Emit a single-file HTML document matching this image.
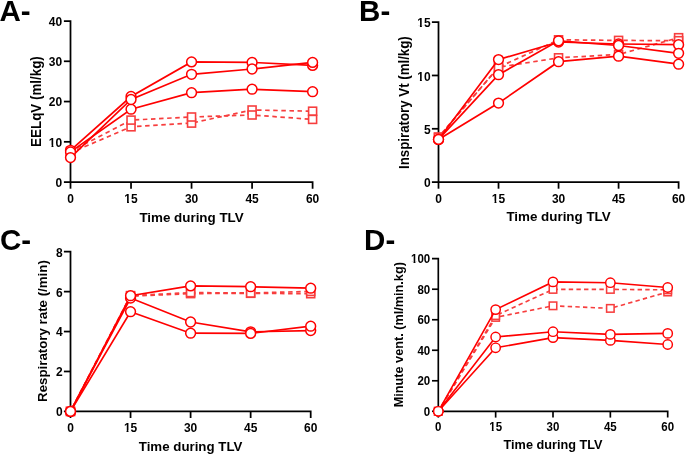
<!DOCTYPE html>
<html><head><meta charset="utf-8"><style>
html,body{margin:0;padding:0;background:#fff;}
svg{display:block;will-change:transform;}
text{font-family:'Liberation Sans', sans-serif;font-weight:bold;fill:#000;}
</style></head><body>
<svg width="685" height="454" viewBox="0 0 685 454">
<rect width="685" height="454" fill="#fff"/>
<path d="M63.90,21.00H70.50V182.10H312.60V188.70" fill="none" stroke="#000" stroke-width="1.75" stroke-linejoin="miter"/>
<path d="M63.90,182.10H70.50" stroke="#000" stroke-width="1.75"/>
<path d="M63.90,141.82H70.50" stroke="#000" stroke-width="1.75"/>
<path d="M63.90,101.55H70.50" stroke="#000" stroke-width="1.75"/>
<path d="M63.90,61.28H70.50" stroke="#000" stroke-width="1.75"/>
<path d="M70.50,182.10V188.70" stroke="#000" stroke-width="1.75"/>
<path d="M131.03,182.10V188.70" stroke="#000" stroke-width="1.75"/>
<path d="M191.55,182.10V188.70" stroke="#000" stroke-width="1.75"/>
<path d="M252.08,182.10V188.70" stroke="#000" stroke-width="1.75"/>
<text transform="translate(62.20,187.00) scale(1,1.05)" text-anchor="end" font-size="12">0</text>
<text transform="translate(62.20,146.72) scale(1,1.05)" text-anchor="end" font-size="12">10</text>
<rect x="48.21" y="144.84" width="3.30" height="2.59" fill="#fff"/>
<rect x="53.45" y="144.84" width="2.40" height="2.59" fill="#fff"/>
<text transform="translate(62.20,106.45) scale(1,1.05)" text-anchor="end" font-size="12">20</text>
<text transform="translate(62.20,66.18) scale(1,1.05)" text-anchor="end" font-size="12">30</text>
<text transform="translate(62.20,25.90) scale(1,1.05)" text-anchor="end" font-size="12">40</text>
<text transform="translate(70.50,202.60) scale(1,1.05)" text-anchor="middle" font-size="12">0</text>
<text transform="translate(131.03,202.60) scale(1,1.05)" text-anchor="middle" font-size="12">15</text>
<rect x="123.70" y="200.71" width="3.30" height="2.59" fill="#fff"/>
<rect x="128.95" y="200.71" width="2.40" height="2.59" fill="#fff"/>
<text transform="translate(191.55,202.60) scale(1,1.05)" text-anchor="middle" font-size="12">30</text>
<text transform="translate(252.08,202.60) scale(1,1.05)" text-anchor="middle" font-size="12">45</text>
<text transform="translate(312.60,202.60) scale(1,1.05)" text-anchor="middle" font-size="12">60</text>
<text transform="translate(191.55,221.90) scale(1,1.02)" text-anchor="middle" font-size="13.4">Time during TLV</text>
<text transform="translate(41.20,101.55) rotate(-90) scale(1,1.025)" x="0" y="0" text-anchor="middle" font-size="13.4">EELqV (ml/kg)</text>
<text transform="translate(-0.60,20.50) scale(1,1.0)" font-size="29.5">A-</text>
<polyline points="70.50,152.80 131.03,126.80 191.55,123.10 252.08,110.00 312.60,111.20" fill="none" stroke="rgb(247,62,62)" stroke-width="1.7" stroke-dasharray="4.5 3.6" stroke-dashoffset="1.00"/>
<polyline points="70.50,151.40 131.03,120.10 191.55,117.00 252.08,115.00 312.60,119.40" fill="none" stroke="rgb(247,62,62)" stroke-width="1.7" stroke-dasharray="4.5 3.6" stroke-dashoffset="1.00"/>
<rect x="66.50" y="148.80" width="8.00" height="8.00" fill="#fff" stroke="rgb(247,62,62)" stroke-width="1.6"/>
<rect x="127.03" y="122.80" width="8.00" height="8.00" fill="#fff" stroke="rgb(247,62,62)" stroke-width="1.6"/>
<rect x="187.55" y="119.10" width="8.00" height="8.00" fill="#fff" stroke="rgb(247,62,62)" stroke-width="1.6"/>
<rect x="248.08" y="106.00" width="8.00" height="8.00" fill="#fff" stroke="rgb(247,62,62)" stroke-width="1.6"/>
<rect x="308.60" y="107.20" width="8.00" height="8.00" fill="#fff" stroke="rgb(247,62,62)" stroke-width="1.6"/>
<rect x="66.50" y="147.40" width="8.00" height="8.00" fill="#fff" stroke="rgb(247,62,62)" stroke-width="1.6"/>
<rect x="127.03" y="116.10" width="8.00" height="8.00" fill="#fff" stroke="rgb(247,62,62)" stroke-width="1.6"/>
<rect x="187.55" y="113.00" width="8.00" height="8.00" fill="#fff" stroke="rgb(247,62,62)" stroke-width="1.6"/>
<rect x="248.08" y="111.00" width="8.00" height="8.00" fill="#fff" stroke="rgb(247,62,62)" stroke-width="1.6"/>
<rect x="308.60" y="115.40" width="8.00" height="8.00" fill="#fff" stroke="rgb(247,62,62)" stroke-width="1.6"/>
<polyline points="70.50,150.30 131.03,96.50 191.55,61.90 252.08,62.40 312.60,65.40" fill="none" stroke="#ff0000" stroke-width="1.7"/>
<polyline points="70.50,151.90 131.03,109.20 191.55,92.70 252.08,89.20 312.60,91.70" fill="none" stroke="#ff0000" stroke-width="1.7"/>
<polyline points="70.50,157.60 131.03,99.50 191.55,74.30 252.08,69.00 312.60,62.40" fill="none" stroke="#ff0000" stroke-width="1.7"/>
<circle cx="70.50" cy="150.30" r="4.9" fill="#fff" stroke="#ff0000" stroke-width="1.5"/>
<circle cx="131.03" cy="96.50" r="4.9" fill="#fff" stroke="#ff0000" stroke-width="1.5"/>
<circle cx="191.55" cy="61.90" r="4.9" fill="#fff" stroke="#ff0000" stroke-width="1.5"/>
<circle cx="252.08" cy="62.40" r="4.9" fill="#fff" stroke="#ff0000" stroke-width="1.5"/>
<circle cx="312.60" cy="65.40" r="4.9" fill="#fff" stroke="#ff0000" stroke-width="1.5"/>
<circle cx="70.50" cy="151.90" r="4.9" fill="#fff" stroke="#ff0000" stroke-width="1.5"/>
<circle cx="131.03" cy="109.20" r="4.9" fill="#fff" stroke="#ff0000" stroke-width="1.5"/>
<circle cx="191.55" cy="92.70" r="4.9" fill="#fff" stroke="#ff0000" stroke-width="1.5"/>
<circle cx="252.08" cy="89.20" r="4.9" fill="#fff" stroke="#ff0000" stroke-width="1.5"/>
<circle cx="312.60" cy="91.70" r="4.9" fill="#fff" stroke="#ff0000" stroke-width="1.5"/>
<circle cx="70.50" cy="157.60" r="4.9" fill="#fff" stroke="#ff0000" stroke-width="1.5"/>
<circle cx="131.03" cy="99.50" r="4.9" fill="#fff" stroke="#ff0000" stroke-width="1.5"/>
<circle cx="191.55" cy="74.30" r="4.9" fill="#fff" stroke="#ff0000" stroke-width="1.5"/>
<circle cx="252.08" cy="69.00" r="4.9" fill="#fff" stroke="#ff0000" stroke-width="1.5"/>
<circle cx="312.60" cy="62.40" r="4.9" fill="#fff" stroke="#ff0000" stroke-width="1.5"/>
<path d="M431.90,22.15H438.50V182.10H678.60V188.70" fill="none" stroke="#000" stroke-width="1.75" stroke-linejoin="miter"/>
<path d="M431.90,182.10H438.50" stroke="#000" stroke-width="1.75"/>
<path d="M431.90,128.78H438.50" stroke="#000" stroke-width="1.75"/>
<path d="M431.90,75.47H438.50" stroke="#000" stroke-width="1.75"/>
<path d="M438.50,182.10V188.70" stroke="#000" stroke-width="1.75"/>
<path d="M498.52,182.10V188.70" stroke="#000" stroke-width="1.75"/>
<path d="M558.55,182.10V188.70" stroke="#000" stroke-width="1.75"/>
<path d="M618.58,182.10V188.70" stroke="#000" stroke-width="1.75"/>
<text transform="translate(430.60,187.20) scale(1,1.05)" text-anchor="end" font-size="12">0</text>
<text transform="translate(430.60,133.88) scale(1,1.05)" text-anchor="end" font-size="12">5</text>
<text transform="translate(430.60,80.57) scale(1,1.05)" text-anchor="end" font-size="12">10</text>
<rect x="416.61" y="78.68" width="3.30" height="2.59" fill="#fff"/>
<rect x="421.85" y="78.68" width="2.40" height="2.59" fill="#fff"/>
<text transform="translate(430.60,27.25) scale(1,1.05)" text-anchor="end" font-size="12">15</text>
<rect x="416.61" y="25.36" width="3.30" height="2.59" fill="#fff"/>
<rect x="421.85" y="25.36" width="2.40" height="2.59" fill="#fff"/>
<text transform="translate(438.50,202.60) scale(1,1.05)" text-anchor="middle" font-size="12">0</text>
<text transform="translate(498.52,202.60) scale(1,1.05)" text-anchor="middle" font-size="12">15</text>
<rect x="491.20" y="200.71" width="3.30" height="2.59" fill="#fff"/>
<rect x="496.45" y="200.71" width="2.40" height="2.59" fill="#fff"/>
<text transform="translate(558.55,202.60) scale(1,1.05)" text-anchor="middle" font-size="12">30</text>
<text transform="translate(618.58,202.60) scale(1,1.05)" text-anchor="middle" font-size="12">45</text>
<text transform="translate(678.60,202.60) scale(1,1.05)" text-anchor="middle" font-size="12">60</text>
<text transform="translate(558.55,221.00) scale(1,1.02)" text-anchor="middle" font-size="13.4">Time during TLV</text>
<text transform="translate(408.80,102.62) rotate(-90) scale(1,1.05)" x="0" y="0" text-anchor="middle" font-size="13.28">Inspiratory Vt (ml/kg)</text>
<text transform="translate(359.10,20.50) scale(1,1.0)" font-size="29.5">B-</text>
<polyline points="438.50,137.20 498.52,67.20 558.55,57.80 618.58,54.50 678.60,37.70" fill="none" stroke="rgb(247,62,62)" stroke-width="1.7" stroke-dasharray="4.5 3.6" stroke-dashoffset="2.24"/>
<polyline points="438.50,137.20 498.52,67.20 558.55,39.80 618.58,40.40 678.60,40.70" fill="none" stroke="rgb(247,62,62)" stroke-width="1.7" stroke-dasharray="4.5 3.6" stroke-dashoffset="3.86"/>
<rect x="434.50" y="133.20" width="8.00" height="8.00" fill="#fff" stroke="rgb(247,62,62)" stroke-width="1.6"/>
<rect x="494.52" y="63.20" width="8.00" height="8.00" fill="#fff" stroke="rgb(247,62,62)" stroke-width="1.6"/>
<rect x="554.55" y="53.80" width="8.00" height="8.00" fill="#fff" stroke="rgb(247,62,62)" stroke-width="1.6"/>
<rect x="614.58" y="50.50" width="8.00" height="8.00" fill="#fff" stroke="rgb(247,62,62)" stroke-width="1.6"/>
<rect x="674.60" y="33.70" width="8.00" height="8.00" fill="#fff" stroke="rgb(247,62,62)" stroke-width="1.6"/>
<rect x="434.50" y="133.20" width="8.00" height="8.00" fill="#fff" stroke="rgb(247,62,62)" stroke-width="1.6"/>
<rect x="494.52" y="63.20" width="8.00" height="8.00" fill="#fff" stroke="rgb(247,62,62)" stroke-width="1.6"/>
<rect x="554.55" y="35.80" width="8.00" height="8.00" fill="#fff" stroke="rgb(247,62,62)" stroke-width="1.6"/>
<rect x="614.58" y="36.40" width="8.00" height="8.00" fill="#fff" stroke="rgb(247,62,62)" stroke-width="1.6"/>
<rect x="674.60" y="36.70" width="8.00" height="8.00" fill="#fff" stroke="rgb(247,62,62)" stroke-width="1.6"/>
<polyline points="438.50,139.40 498.52,59.60 558.55,42.00 618.58,44.00 678.60,44.70" fill="none" stroke="#ff0000" stroke-width="1.7"/>
<polyline points="438.50,139.40 498.52,74.70 558.55,40.80 618.58,45.50 678.60,53.30" fill="none" stroke="#ff0000" stroke-width="1.7"/>
<polyline points="438.50,139.40 498.52,103.10 558.55,61.70 618.58,56.20 678.60,64.20" fill="none" stroke="#ff0000" stroke-width="1.7"/>
<circle cx="438.50" cy="139.40" r="4.9" fill="#fff" stroke="#ff0000" stroke-width="1.5"/>
<circle cx="498.52" cy="59.60" r="4.9" fill="#fff" stroke="#ff0000" stroke-width="1.5"/>
<circle cx="558.55" cy="42.00" r="4.9" fill="#fff" stroke="#ff0000" stroke-width="1.5"/>
<circle cx="618.58" cy="44.00" r="4.9" fill="#fff" stroke="#ff0000" stroke-width="1.5"/>
<circle cx="678.60" cy="44.70" r="4.9" fill="#fff" stroke="#ff0000" stroke-width="1.5"/>
<circle cx="438.50" cy="139.40" r="4.9" fill="#fff" stroke="#ff0000" stroke-width="1.5"/>
<circle cx="498.52" cy="74.70" r="4.9" fill="#fff" stroke="#ff0000" stroke-width="1.5"/>
<circle cx="558.55" cy="40.80" r="4.9" fill="#fff" stroke="#ff0000" stroke-width="1.5"/>
<circle cx="618.58" cy="45.50" r="4.9" fill="#fff" stroke="#ff0000" stroke-width="1.5"/>
<circle cx="678.60" cy="53.30" r="4.9" fill="#fff" stroke="#ff0000" stroke-width="1.5"/>
<circle cx="438.50" cy="139.40" r="4.9" fill="#fff" stroke="#ff0000" stroke-width="1.5"/>
<circle cx="498.52" cy="103.10" r="4.9" fill="#fff" stroke="#ff0000" stroke-width="1.5"/>
<circle cx="558.55" cy="61.70" r="4.9" fill="#fff" stroke="#ff0000" stroke-width="1.5"/>
<circle cx="618.58" cy="56.20" r="4.9" fill="#fff" stroke="#ff0000" stroke-width="1.5"/>
<circle cx="678.60" cy="64.20" r="4.9" fill="#fff" stroke="#ff0000" stroke-width="1.5"/>
<path d="M63.90,251.70H70.50V411.40H310.70V418.00" fill="none" stroke="#000" stroke-width="1.75" stroke-linejoin="miter"/>
<path d="M63.90,411.40H70.50" stroke="#000" stroke-width="1.75"/>
<path d="M63.90,371.47H70.50" stroke="#000" stroke-width="1.75"/>
<path d="M63.90,331.55H70.50" stroke="#000" stroke-width="1.75"/>
<path d="M63.90,291.62H70.50" stroke="#000" stroke-width="1.75"/>
<path d="M70.50,411.40V418.00" stroke="#000" stroke-width="1.75"/>
<path d="M130.55,411.40V418.00" stroke="#000" stroke-width="1.75"/>
<path d="M190.60,411.40V418.00" stroke="#000" stroke-width="1.75"/>
<path d="M250.65,411.40V418.00" stroke="#000" stroke-width="1.75"/>
<text transform="translate(62.60,416.30) scale(1,1.05)" text-anchor="end" font-size="12">0</text>
<text transform="translate(62.60,376.37) scale(1,1.05)" text-anchor="end" font-size="12">2</text>
<text transform="translate(62.60,336.45) scale(1,1.05)" text-anchor="end" font-size="12">4</text>
<text transform="translate(62.60,296.52) scale(1,1.05)" text-anchor="end" font-size="12">6</text>
<text transform="translate(62.60,256.60) scale(1,1.05)" text-anchor="end" font-size="12">8</text>
<text transform="translate(70.50,431.90) scale(1,1.05)" text-anchor="middle" font-size="12">0</text>
<text transform="translate(130.55,431.90) scale(1,1.05)" text-anchor="middle" font-size="12">15</text>
<rect x="123.23" y="430.01" width="3.30" height="2.59" fill="#fff"/>
<rect x="128.48" y="430.01" width="2.40" height="2.59" fill="#fff"/>
<text transform="translate(190.60,431.90) scale(1,1.05)" text-anchor="middle" font-size="12">30</text>
<text transform="translate(250.65,431.90) scale(1,1.05)" text-anchor="middle" font-size="12">45</text>
<text transform="translate(310.70,431.90) scale(1,1.05)" text-anchor="middle" font-size="12">60</text>
<text transform="translate(190.60,451.30) scale(1,1.02)" text-anchor="middle" font-size="13.3">Time during TLV</text>
<text transform="translate(47.30,331.05) rotate(-90) scale(1,1.025)" x="0" y="0" text-anchor="middle" font-size="13.3">Respiratory rate (/min)</text>
<text transform="translate(0.05,250.20) scale(1,1.0)" font-size="29.5">C-</text>
<polyline points="70.50,411.40 130.55,296.20 190.60,293.60 250.65,293.30 310.70,293.70" fill="none" stroke="rgb(247,62,62)" stroke-width="1.7" stroke-dasharray="4.5 3.6" stroke-dashoffset="4.08"/>
<polyline points="70.50,411.40 130.55,295.60 190.60,292.60 250.65,293.00 310.70,291.40" fill="none" stroke="rgb(247,62,62)" stroke-width="1.7" stroke-dasharray="4.5 3.6" stroke-dashoffset="3.53"/>
<rect x="66.50" y="407.40" width="8.00" height="8.00" fill="#fff" stroke="rgb(247,62,62)" stroke-width="1.6"/>
<rect x="126.55" y="292.20" width="8.00" height="8.00" fill="#fff" stroke="rgb(247,62,62)" stroke-width="1.6"/>
<rect x="186.60" y="289.60" width="8.00" height="8.00" fill="#fff" stroke="rgb(247,62,62)" stroke-width="1.6"/>
<rect x="246.65" y="289.30" width="8.00" height="8.00" fill="#fff" stroke="rgb(247,62,62)" stroke-width="1.6"/>
<rect x="306.70" y="289.70" width="8.00" height="8.00" fill="#fff" stroke="rgb(247,62,62)" stroke-width="1.6"/>
<rect x="66.50" y="407.40" width="8.00" height="8.00" fill="#fff" stroke="rgb(247,62,62)" stroke-width="1.6"/>
<rect x="126.55" y="291.60" width="8.00" height="8.00" fill="#fff" stroke="rgb(247,62,62)" stroke-width="1.6"/>
<rect x="186.60" y="288.60" width="8.00" height="8.00" fill="#fff" stroke="rgb(247,62,62)" stroke-width="1.6"/>
<rect x="246.65" y="289.00" width="8.00" height="8.00" fill="#fff" stroke="rgb(247,62,62)" stroke-width="1.6"/>
<rect x="306.70" y="287.40" width="8.00" height="8.00" fill="#fff" stroke="rgb(247,62,62)" stroke-width="1.6"/>
<polyline points="70.50,411.40 130.55,298.00 190.60,322.00 250.65,331.80 310.70,330.60" fill="none" stroke="#ff0000" stroke-width="1.7"/>
<polyline points="70.50,411.40 130.55,311.70 190.60,333.20 250.65,333.40 310.70,326.20" fill="none" stroke="#ff0000" stroke-width="1.7"/>
<polyline points="70.50,411.40 130.55,295.70 190.60,285.90 250.65,286.70 310.70,288.20" fill="none" stroke="#ff0000" stroke-width="1.7"/>
<circle cx="70.50" cy="411.40" r="4.9" fill="#fff" stroke="#ff0000" stroke-width="1.5"/>
<circle cx="130.55" cy="298.00" r="4.9" fill="#fff" stroke="#ff0000" stroke-width="1.5"/>
<circle cx="190.60" cy="322.00" r="4.9" fill="#fff" stroke="#ff0000" stroke-width="1.5"/>
<circle cx="250.65" cy="331.80" r="4.9" fill="#fff" stroke="#ff0000" stroke-width="1.5"/>
<circle cx="310.70" cy="330.60" r="4.9" fill="#fff" stroke="#ff0000" stroke-width="1.5"/>
<circle cx="70.50" cy="411.40" r="4.9" fill="#fff" stroke="#ff0000" stroke-width="1.5"/>
<circle cx="130.55" cy="311.70" r="4.9" fill="#fff" stroke="#ff0000" stroke-width="1.5"/>
<circle cx="190.60" cy="333.20" r="4.9" fill="#fff" stroke="#ff0000" stroke-width="1.5"/>
<circle cx="250.65" cy="333.40" r="4.9" fill="#fff" stroke="#ff0000" stroke-width="1.5"/>
<circle cx="310.70" cy="326.20" r="4.9" fill="#fff" stroke="#ff0000" stroke-width="1.5"/>
<circle cx="70.50" cy="411.40" r="4.9" fill="#fff" stroke="#ff0000" stroke-width="1.5"/>
<circle cx="130.55" cy="295.70" r="4.9" fill="#fff" stroke="#ff0000" stroke-width="1.5"/>
<circle cx="190.60" cy="285.90" r="4.9" fill="#fff" stroke="#ff0000" stroke-width="1.5"/>
<circle cx="250.65" cy="286.70" r="4.9" fill="#fff" stroke="#ff0000" stroke-width="1.5"/>
<circle cx="310.70" cy="288.20" r="4.9" fill="#fff" stroke="#ff0000" stroke-width="1.5"/>
<path d="M432.00,258.70H438.30V411.30H667.70V417.60" fill="none" stroke="#000" stroke-width="1.67" stroke-linejoin="miter"/>
<path d="M432.00,411.30H438.30" stroke="#000" stroke-width="1.67"/>
<path d="M432.00,380.78H438.30" stroke="#000" stroke-width="1.67"/>
<path d="M432.00,350.26H438.30" stroke="#000" stroke-width="1.67"/>
<path d="M432.00,319.74H438.30" stroke="#000" stroke-width="1.67"/>
<path d="M432.00,289.22H438.30" stroke="#000" stroke-width="1.67"/>
<path d="M438.30,411.30V417.60" stroke="#000" stroke-width="1.67"/>
<path d="M495.65,411.30V417.60" stroke="#000" stroke-width="1.67"/>
<path d="M553.00,411.30V417.60" stroke="#000" stroke-width="1.67"/>
<path d="M610.35,411.30V417.60" stroke="#000" stroke-width="1.67"/>
<text transform="translate(430.20,415.90) scale(1,1.05)" text-anchor="end" font-size="11.5">0</text>
<text transform="translate(430.20,385.38) scale(1,1.05)" text-anchor="end" font-size="11.5">20</text>
<text transform="translate(430.20,354.86) scale(1,1.05)" text-anchor="end" font-size="11.5">40</text>
<text transform="translate(430.20,324.34) scale(1,1.05)" text-anchor="end" font-size="11.5">60</text>
<text transform="translate(430.20,293.82) scale(1,1.05)" text-anchor="end" font-size="11.5">80</text>
<text transform="translate(430.20,263.30) scale(1,1.05)" text-anchor="end" font-size="11.5">100</text>
<rect x="410.35" y="261.47" width="3.20" height="2.53" fill="#fff"/>
<rect x="415.43" y="261.47" width="2.31" height="2.53" fill="#fff"/>
<text transform="translate(438.30,430.80) scale(1,1.05)" text-anchor="middle" font-size="11.5">0</text>
<text transform="translate(495.65,430.80) scale(1,1.05)" text-anchor="middle" font-size="11.5">15</text>
<rect x="488.59" y="428.97" width="3.20" height="2.53" fill="#fff"/>
<rect x="493.67" y="428.97" width="2.31" height="2.53" fill="#fff"/>
<text transform="translate(553.00,430.80) scale(1,1.05)" text-anchor="middle" font-size="11.5">30</text>
<text transform="translate(610.35,430.80) scale(1,1.05)" text-anchor="middle" font-size="11.5">45</text>
<text transform="translate(667.70,430.80) scale(1,1.05)" text-anchor="middle" font-size="11.5">60</text>
<text transform="translate(553.00,448.90) scale(1,1.02)" text-anchor="middle" font-size="12.7">Time during TLV</text>
<text transform="translate(403.20,334.70) rotate(-90) scale(1,1.025)" x="0" y="0" text-anchor="middle" font-size="12.7">Minute vent. (ml/min.kg)</text>
<text transform="translate(364.10,250.40) scale(1,1.0)" font-size="29.5">D-</text>
<polyline points="438.30,411.30 495.65,317.40 553.00,305.80 610.35,308.40 667.70,292.00" fill="none" stroke="rgb(247,62,62)" stroke-width="1.62" stroke-dasharray="4.4 3.25" stroke-dashoffset="0.35"/>
<polyline points="438.30,411.30 495.65,315.60 553.00,289.40 610.35,289.40 667.70,289.80" fill="none" stroke="rgb(247,62,62)" stroke-width="1.62" stroke-dasharray="4.4 3.25" stroke-dashoffset="0.88"/>
<rect x="434.55" y="407.55" width="7.50" height="7.50" fill="#fff" stroke="rgb(247,62,62)" stroke-width="1.55"/>
<rect x="491.90" y="313.65" width="7.50" height="7.50" fill="#fff" stroke="rgb(247,62,62)" stroke-width="1.55"/>
<rect x="549.25" y="302.05" width="7.50" height="7.50" fill="#fff" stroke="rgb(247,62,62)" stroke-width="1.55"/>
<rect x="606.60" y="304.65" width="7.50" height="7.50" fill="#fff" stroke="rgb(247,62,62)" stroke-width="1.55"/>
<rect x="663.95" y="288.25" width="7.50" height="7.50" fill="#fff" stroke="rgb(247,62,62)" stroke-width="1.55"/>
<rect x="434.55" y="407.55" width="7.50" height="7.50" fill="#fff" stroke="rgb(247,62,62)" stroke-width="1.55"/>
<rect x="491.90" y="311.85" width="7.50" height="7.50" fill="#fff" stroke="rgb(247,62,62)" stroke-width="1.55"/>
<rect x="549.25" y="285.65" width="7.50" height="7.50" fill="#fff" stroke="rgb(247,62,62)" stroke-width="1.55"/>
<rect x="606.60" y="285.65" width="7.50" height="7.50" fill="#fff" stroke="rgb(247,62,62)" stroke-width="1.55"/>
<rect x="663.95" y="286.05" width="7.50" height="7.50" fill="#fff" stroke="rgb(247,62,62)" stroke-width="1.55"/>
<polyline points="438.30,411.30 495.65,347.80 553.00,337.60 610.35,340.40 667.70,344.50" fill="none" stroke="#ff0000" stroke-width="1.62"/>
<polyline points="438.30,411.30 495.65,337.00 553.00,331.70 610.35,334.40 667.70,333.40" fill="none" stroke="#ff0000" stroke-width="1.62"/>
<polyline points="438.30,411.30 495.65,309.60 553.00,281.90 610.35,282.70 667.70,287.50" fill="none" stroke="#ff0000" stroke-width="1.62"/>
<circle cx="438.30" cy="411.30" r="4.68" fill="#fff" stroke="#ff0000" stroke-width="1.45"/>
<circle cx="495.65" cy="347.80" r="4.68" fill="#fff" stroke="#ff0000" stroke-width="1.45"/>
<circle cx="553.00" cy="337.60" r="4.68" fill="#fff" stroke="#ff0000" stroke-width="1.45"/>
<circle cx="610.35" cy="340.40" r="4.68" fill="#fff" stroke="#ff0000" stroke-width="1.45"/>
<circle cx="667.70" cy="344.50" r="4.68" fill="#fff" stroke="#ff0000" stroke-width="1.45"/>
<circle cx="438.30" cy="411.30" r="4.68" fill="#fff" stroke="#ff0000" stroke-width="1.45"/>
<circle cx="495.65" cy="337.00" r="4.68" fill="#fff" stroke="#ff0000" stroke-width="1.45"/>
<circle cx="553.00" cy="331.70" r="4.68" fill="#fff" stroke="#ff0000" stroke-width="1.45"/>
<circle cx="610.35" cy="334.40" r="4.68" fill="#fff" stroke="#ff0000" stroke-width="1.45"/>
<circle cx="667.70" cy="333.40" r="4.68" fill="#fff" stroke="#ff0000" stroke-width="1.45"/>
<circle cx="438.30" cy="411.30" r="4.68" fill="#fff" stroke="#ff0000" stroke-width="1.45"/>
<circle cx="495.65" cy="309.60" r="4.68" fill="#fff" stroke="#ff0000" stroke-width="1.45"/>
<circle cx="553.00" cy="281.90" r="4.68" fill="#fff" stroke="#ff0000" stroke-width="1.45"/>
<circle cx="610.35" cy="282.70" r="4.68" fill="#fff" stroke="#ff0000" stroke-width="1.45"/>
<circle cx="667.70" cy="287.50" r="4.68" fill="#fff" stroke="#ff0000" stroke-width="1.45"/>
</svg>
</body></html>
